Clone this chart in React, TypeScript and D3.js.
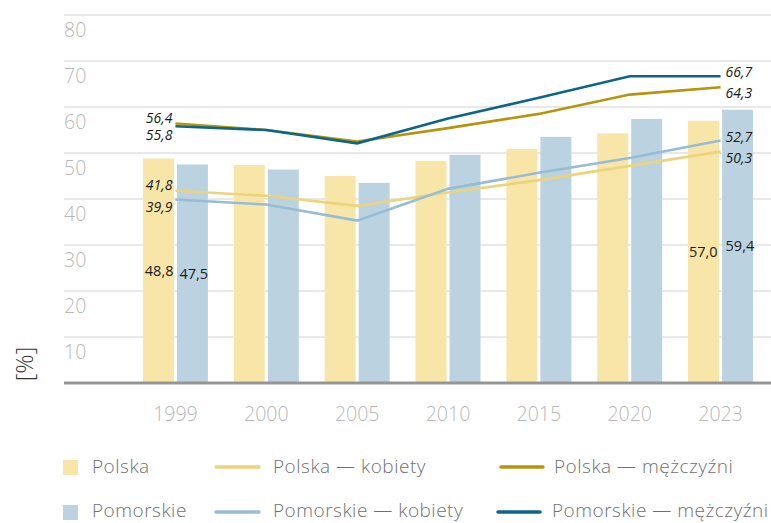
import React from "react";
import * as d3 from "d3";

const years = ["1999", "2000", "2005", "2010", "2015", "2020", "2023"];
const polska = [48.8, 47.4, 45.0, 48.3, 50.9, 54.3, 57.0];
const pomorskie = [47.5, 46.4, 43.5, 49.6, 53.5, 57.4, 59.4];
const polskaKobiety = [41.8, 40.7, 38.5, 41.4, 44.1, 47.2, 50.3];
const pomorskieKobiety = [39.9, 38.8, 35.3, 42.2, 45.7, 48.9, 52.7];
const polskaMezczyzni = [56.4, 55.0, 52.5, 55.4, 58.5, 62.7, 64.3];
const pomorskieMezczyzni = [55.8, 55.0, 52.1, 57.5, 62.0, 66.7, 66.7];
const yTicks = [10, 20, 30, 40, 50, 60, 70, 80];

const C = {
  barPl: "#f8e6a8",
  barPom: "#bbd3e0",
  linePlK: "#ecd47c",
  linePomK: "#96bdd5",
  linePlM: "#b5950e",
  linePomM: "#0d6689",
};

const fmt = (v: number) => v.toFixed(1).replace(".", ",");
const FONT = "'Open Sans', sans-serif";

export default function App() {
  const W = 771;
  const H = 523;
  const y = d3.scaleLinear().domain([0, 80]).range([383, 15]);
  const x = d3.scaleBand<string>().domain(years).range([130, 766]).padding(0);
  const cx = (yr: string) => (x(yr) as number) + x.bandwidth() / 2;
  const barW = 31;
  const gap = 3;

  const line = (vals: number[]) =>
    d3
      .line<number>()
      .x((_, i) => cx(years[i]))
      .y((v) => y(v))(vals) as string;

  const lines = [
    { vals: polskaKobiety, color: C.linePlK },
    { vals: pomorskieKobiety, color: C.linePomK },
    { vals: polskaMezczyzni, color: C.linePlM },
    { vals: pomorskieMezczyzni, color: C.linePomM },
  ];

  const first = cx(years[0]);
  const last = cx(years[years.length - 1]);
  const n = years.length - 1;

  const lineLabel = { fontFamily: FONT, fontSize: 14, fontStyle: "italic" as const, fill: "#1a1a1a" };

  return (
    <svg width={W} height={H} style={{ position: "absolute", left: 0, top: 0 }}>
      <rect width={W} height={H} fill="#fff" />
      {yTicks.map((t) => (
        <g key={t}>
          <line x1={64} x2={771} y1={y(t)} y2={y(t)} stroke="#d2d2d2" strokeWidth={1} />
          <text x={64} y={y(t) + 22} fontFamily={FONT} fontWeight={300} fontSize={19.5} fill="#b8b8b8">
            {t}
          </text>
        </g>
      ))}
      {years.map((yr, i) => (
        <g key={yr}>
          <rect x={cx(yr) - gap / 2 - barW} y={y(polska[i])} width={barW} height={y(0) - y(polska[i])} fill={C.barPl} />
          <rect x={cx(yr) + gap / 2} y={y(pomorskie[i])} width={barW} height={y(0) - y(pomorskie[i])} fill={C.barPom} />
          <text x={cx(yr)} y={421} textAnchor="middle" fontFamily={FONT} fontWeight={300} fontSize={19.5} fill="#b8b8b8">
            {yr}
          </text>
        </g>
      ))}
      <line x1={64} x2={771} y1={y(0)} y2={y(0)} stroke="#959595" strokeWidth={3} />
      {lines.map((l, i) => (
        <path key={i} d={line(l.vals)} fill="none" stroke={l.color} strokeWidth={2.6} />
      ))}

      {/* bar labels */}
      <g fontFamily={FONT} fontSize={14.5} fill="#1a1a1a">
        <text x={first - 2} y={y(polska[0] / 2) + 5} textAnchor="end">
          {fmt(polska[0])}
        </text>
        <text x={first + 4} y={y(pomorskie[0] / 2) + 5}>{fmt(pomorskie[0])}</text>
        <text x={last - 3} y={y(polska[n] / 2) + 5} textAnchor="end">
          {fmt(polska[n])}
        </text>
        <text x={last + 5} y={y(pomorskie[n] / 2) + 5}>{fmt(pomorskie[n])}</text>
      </g>

      {/* line labels, 1999 */}
      <text x={first - 3} y={y(polskaMezczyzni[0]) - 1} textAnchor="end" {...lineLabel}>
        {fmt(polskaMezczyzni[0])}
      </text>
      <text x={first - 3} y={y(pomorskieMezczyzni[0]) + 14} textAnchor="end" {...lineLabel}>
        {fmt(pomorskieMezczyzni[0])}
      </text>
      <text x={first - 3} y={y(polskaKobiety[0]) - 1} textAnchor="end" {...lineLabel}>
        {fmt(polskaKobiety[0])}
      </text>
      <text x={first - 3} y={y(pomorskieKobiety[0]) + 13} textAnchor="end" {...lineLabel}>
        {fmt(pomorskieKobiety[0])}
      </text>

      {/* line labels, 2023 */}
      <text x={last + 5} y={y(pomorskieMezczyzni[n]) + 1} {...lineLabel}>
        {fmt(pomorskieMezczyzni[n])}
      </text>
      <text x={last + 5} y={y(polskaMezczyzni[n]) + 11} {...lineLabel}>
        {fmt(polskaMezczyzni[n])}
      </text>
      <text x={last + 5} y={y(pomorskieKobiety[n]) + 1} {...lineLabel}>
        {fmt(pomorskieKobiety[n])}
      </text>
      <text x={last + 5} y={y(polskaKobiety[n]) + 11} {...lineLabel}>
        {fmt(polskaKobiety[n])}
      </text>

      {/* y axis title */}
      <text
        transform="translate(33,364) rotate(-90)"
        textAnchor="middle"
        fontFamily={FONT}
        fontWeight={300}
        fontSize={24}
        fill="#333"
      >
        [%]
      </text>

      {/* legend */}
      <g fontFamily={FONT} fontWeight={300} fontSize={19} letterSpacing={0.5} fill="#707070">
        <rect x={63} y={460} width={15} height={15} fill={C.barPl} />
        <text x={92} y={473}>Polska</text>
        <line x1={216} x2={259} y1={467} y2={467} stroke={C.linePlK} strokeWidth={3.5} strokeLinecap="round" />
        <text x={273} y={473}>Polska — kobiety</text>
        <line x1={501} x2={543} y1={467} y2={467} stroke={C.linePlM} strokeWidth={3.5} strokeLinecap="round" />
        <text x={554} y={473}>Polska — mężczyźni</text>

        <rect x={63} y={505} width={15} height={15} fill={C.barPom} />
        <text x={92} y={517}>Pomorskie</text>
        <line x1={216} x2={259} y1={512} y2={512} stroke={C.linePomK} strokeWidth={3.5} strokeLinecap="round" />
        <text x={273} y={517}>Pomorskie — kobiety</text>
        <line x1={498} x2={540} y1={512} y2={512} stroke={C.linePomM} strokeWidth={3.5} strokeLinecap="round" />
        <text x={552} y={517}>Pomorskie — mężczyźni</text>
      </g>
    </svg>
  );
}
